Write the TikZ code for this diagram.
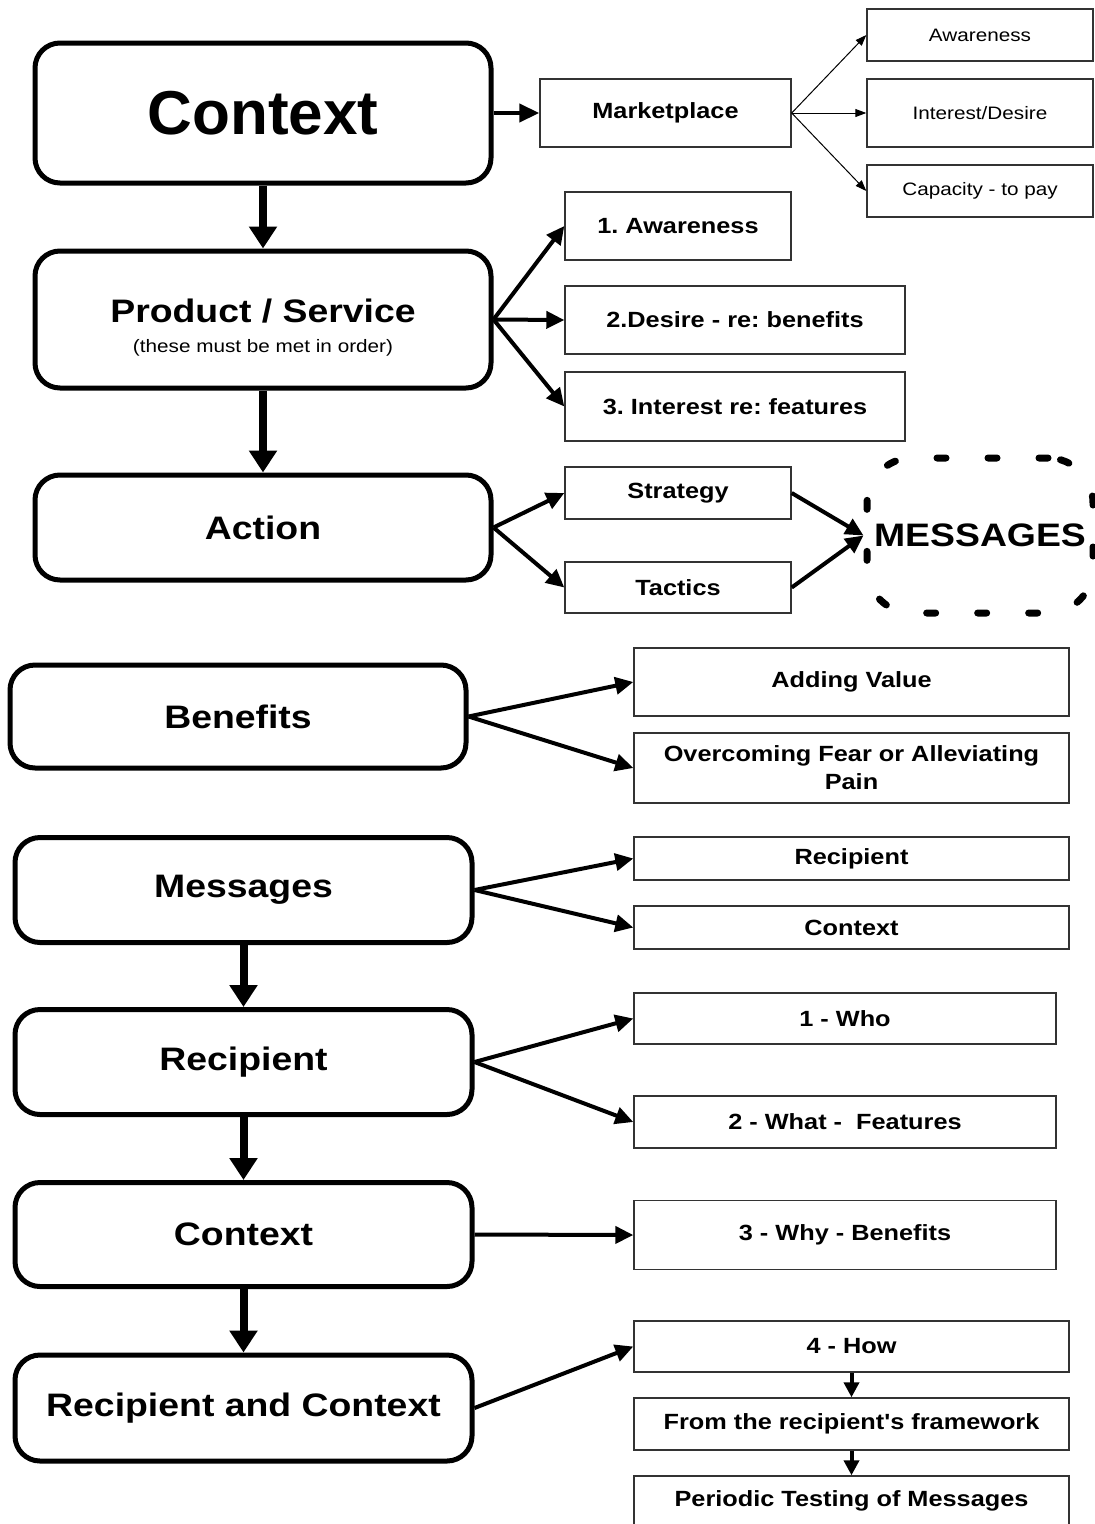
\documentclass[tikz,border=0pt]{standalone}
\usepackage{fontspec}
\setmainfont{Liberation Sans}
\newfontfamily\sw[FakeStretch=1.15]{Liberation Sans}
\usetikzlibrary{arrows.meta}
\frenchspacing

\begin{document}
\begin{tikzpicture}[x=1pt,y=-1pt,
  bigbox/.style={draw, line width=5pt, rounded corners=25pt, inner sep=0pt, align=center,
    font=\sw\bfseries\fontsize{32.5}{38}\selectfont},
  subbox/.style={draw=black!80, line width=1.4pt, inner sep=0pt, align=center,
    font=\sw\bfseries\fontsize{22}{28}\selectfont},
  plainbox/.style={subbox, font=\sw\fontsize{18}{22}\selectfont},
  fatarrow/.style={line width=8pt, -{Triangle[length=22pt,width=27pt]}},
  midarrow/.style={line width=4pt, -{Triangle[length=18pt,width=17pt]}},
  thinarrow/.style={line width=1pt, -{Triangle[length=11pt,width=8pt]}},
  stackarrow/.style={line width=4pt, -{Triangle[length=15pt,width=15pt]}},
  cloud/.style={draw, line width=7pt, line cap=round, dash pattern=on 9pt off 42pt,
    rounded corners=45pt, inner sep=0pt,
    font=\sw\bfseries\fontsize{32.5}{38}\selectfont}
]
\useasboundingbox (0,0) rectangle (1095,1524);

% ---------- upper chain ----------
\node[bigbox, minimum width=456pt, minimum height=140pt,
      font=\bfseries\fontsize{62}{70}\selectfont] (ctx) at (263,113) {Context};
\node[bigbox, minimum width=456pt, minimum height=137pt] (prod) at (263,319.5)
  {\rule{0pt}{40pt}Product / Service\\[-8pt]{\fontsize{18}{20}\selectfont\mdseries (these must be met in order)}};
\node[bigbox, minimum width=456pt, minimum height=105pt] (act) at (263,527.5) {Action};

\node[subbox, minimum width=251pt, minimum height=68pt] (mkt) at (665.5,113) {Marketplace};
\node[plainbox, minimum width=226pt, minimum height=52pt] (aw) at (980,35) {Awareness};
\node[plainbox, minimum width=226pt, minimum height=68pt] (intd) at (980,113) {Interest/Desire};
\node[plainbox, minimum width=226pt, minimum height=52pt] (cap) at (980,191) {Capacity - to pay};

\node[subbox, minimum width=226pt, minimum height=68pt] (a1) at (678,226) {1. Awareness};
\node[subbox, minimum width=340pt, minimum height=68pt] (d2) at (735,320) {2.Desire - re: benefits};
\node[subbox, minimum width=340pt, minimum height=69pt] (i3) at (735,406.5) {3. Interest re: features};

\node[subbox, minimum width=226pt, minimum height=52pt] (strat) at (678,493) {Strategy};
\node[subbox, minimum width=226pt, minimum height=51pt] (tact) at (678,587.5) {Tactics};
\node[cloud, minimum width=226pt, minimum height=155pt] (msgs) at (980,535.5) {MESSAGES};

\draw[fatarrow] (ctx.south) -- (prod.north);
\draw[fatarrow] (prod.south) -- (act.north);
\draw[line width=4pt, -{Triangle[length=20pt,width=18pt]}] (ctx.east) -- (mkt.west);
\draw[thinarrow] (mkt.east) -- (aw.west);
\draw[thinarrow] (mkt.east) -- (intd.west);
\draw[thinarrow] (mkt.east) -- (cap.west);
\draw[midarrow] (prod.east) -- (a1.west);
\draw[midarrow] (prod.east) -- (d2.west);
\draw[midarrow] (prod.east) -- (i3.west);
\draw[midarrow] (act.east) -- (strat.west);
\draw[midarrow] (act.east) -- (tact.west);
\draw[midarrow] (strat.east) -- (msgs.west);
\draw[midarrow] (tact.east) -- (msgs.west);

% ---------- benefits ----------
\node[bigbox, minimum width=456pt, minimum height=103pt] (ben) at (238,716.5) {Benefits};
\node[subbox, minimum width=435pt, minimum height=68pt] (addv) at (851.5,682) {Adding Value};
\node[subbox, minimum width=435pt, minimum height=70pt] (fear) at (851.5,768)
  {Overcoming Fear or Alleviating\\Pain};
\draw[midarrow] (ben.east) -- (addv.west);
\draw[midarrow] (ben.east) -- (fear.west);

% ---------- lower chain ----------
\node[bigbox, minimum width=457pt, minimum height=105pt] (mess) at (243.5,890) {Messages};
\node[bigbox, minimum width=457pt, minimum height=105pt] (rec) at (243.5,1062) {Recipient};
\node[bigbox, minimum width=457pt, minimum height=104pt] (ctx2) at (243.5,1234.5) {Context};
\node[bigbox, minimum width=457pt, minimum height=106pt] (rc) at (243.5,1408) {Recipient and Context};

\node[subbox, minimum width=435pt, minimum height=43pt] (rsm) at (851.5,858.5) {Recipient};
\node[subbox, minimum width=435pt, minimum height=43pt] (csm) at (851.5,927.5) {Context};
\node[subbox, minimum width=422pt, minimum height=51pt] (who) at (845,1018.5) {1 - Who};
\node[subbox, minimum width=422pt, minimum height=52pt] (what) at (845,1122) {2 - What -\ \ Features};
\node[subbox, minimum width=422pt, minimum height=69pt] (why) at (845,1235) {3 - Why - Benefits};
\node[subbox, minimum width=435pt, minimum height=51pt] (how) at (851.5,1346.5) {4 - How};
\node[subbox, minimum width=435pt, minimum height=52pt] (frm) at (851.5,1424) {From the recipient's framework};
\node[subbox, minimum width=435pt, minimum height=50pt] (test) at (851.5,1501) {Periodic Testing of Messages};

\draw[fatarrow] (mess.south) -- (rec.north);
\draw[fatarrow] (rec.south) -- (ctx2.north);
\draw[fatarrow] (ctx2.south) -- (rc.north);
\draw[midarrow] (mess.east) -- (rsm.west);
\draw[midarrow] (mess.east) -- (csm.west);
\draw[midarrow] (rec.east) -- (who.west);
\draw[midarrow] (rec.east) -- (what.west);
\draw[midarrow] (ctx2.east) -- (why.west);
\draw[midarrow] (rc.east) -- (how.west);
\draw[stackarrow] (how.south) -- (frm.north);
\draw[stackarrow] (frm.south) -- (test.north);
\end{tikzpicture}
\end{document}
